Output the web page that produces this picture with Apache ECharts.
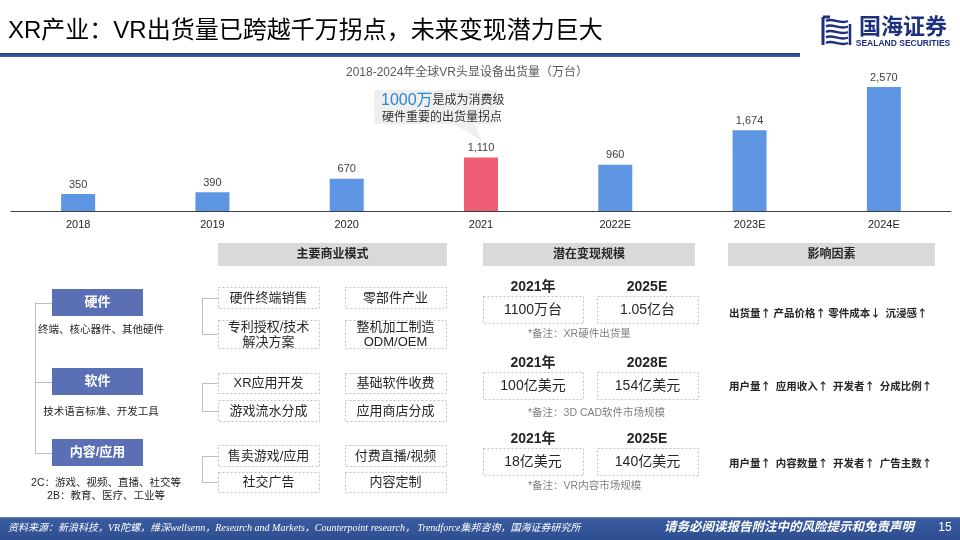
<!DOCTYPE html>
<html>
<head>
<meta charset="utf-8">
<script src="https://cdn.jsdelivr.net/npm/echarts@6/dist/echarts.min.js"></script>
<style>
html,body{margin:0;padding:0;background:#fff;}
#main{width:960px;height:540px;}
</style>
</head>
<body>
<div id="main"></div>
<script>
// ---------- data ----------
const categories = ['2018', '2019', '2020', '2021', '2022E', '2023E', '2024E'];
const shipments = [350, 390, 670, 1110, 960, 1674, 2570];
const highlightCategory = '2021';

const pageTitle = 'XR产业：VR出货量已跨越千万拐点，未来变现潜力巨大';
const chartTitle = '2018-2024年全球VR头显设备出货量（万台）';
const calloutBig = '1000万';
const calloutLine1 = '是成为消费级';
const calloutLine2 = '硬件重要的出货量拐点';

const segments = ['硬件', '软件', '内容/应用'];
const segmentNotes = [['终端、核心器件、其他硬件'], ['技术语言标准、开发工具'], ['2C：游戏、视频、直播、社交等', '2B：教育、医疗、工业等']];

const headers = ['主要商业模式', '潜在变现规模', '影响因素'];
const modelsLeft = ['硬件终端销售', '专利授权/技术\n解决方案', 'XR应用开发', '游戏流水分成', '售卖游戏/应用', '社交广告'];
const modelsRight = ['零部件产业', '整机加工制造\nODM/OEM', '基础软件收费', '应用商店分成', '付费直播/视频', '内容定制'];

const scaleYearsA = ['2021年', '2021年', '2021年'];
const scaleYearsB = ['2025E', '2028E', '2025E'];
const scaleValuesA = ['1100万台', '100亿美元', '18亿美元'];
const scaleValuesB = ['1.05亿台', '154亿美元', '140亿美元'];
const scaleNotes = ['*备注：XR硬件出货量', '*备注：3D CAD软件市场规模', '*备注：VR内容市场规模'];

const factors = ['出货量↑ 产品价格↑ 零件成本↓  沉浸感↑', '用户量↑  应用收入↑  开发者↑  分成比例↑', '用户量↑  内容数量↑  开发者↑  广告主数↑'];

const sourceText = '资料来源：新浪科技，VR陀螺，维深wellsenn，Research and Markets，Counterpoint research， Trendforce集邦咨询，国海证券研究所';
const disclaimer = '请务必阅读报告附注中的风险提示和免责声明';
const pageNo = '15';

// ---------- helpers ----------
const FONT = '"Liberation Sans", "Noto Sans CJK SC", sans-serif';
const CJK = '"Noto Sans CJK SC", sans-serif';
const G = [];
function rect(x, y, w, h, style) { G.push({ type: 'rect', shape: { x: x, y: y, width: w, height: h }, style: style, silent: true }); }
function line(x1, y1, x2, y2, color, w) { G.push({ type: 'line', shape: { x1: x1, y1: y1, x2: x2, y2: y2 }, style: { stroke: color || '#BFBFBF', lineWidth: w || 1 }, silent: true }); }
function txt(x, y, s, font, fill, align, extra) {
  const st = { x: x, y: y, text: s, font: font, fill: fill || '#262626', textAlign: align || 'center', textVerticalAlign: 'middle', lineHeight: 15 };
  if (extra) Object.assign(st, extra);
  G.push({ type: 'text', x: 0, y: 0, style: st, silent: true });
}
function dashBox(x, y, w, h) { rect(x + 0.5, y + 0.5, w, h, { fill: '#fff', stroke: '#BFBFBF', lineWidth: 1, lineDash: [2, 2] }); }

// title & underline
txt(8, 31, pageTitle, '24px ' + FONT, '#000', 'left');
rect(0, 53, 800, 4, { fill: { type: 'linear', x: 0, y: 0, x2: 0, y2: 1, colorStops: [{ offset: 0, color: '#1F3A7C' }, { offset: 1, color: '#3F63A8' }] } });

// logo
(function () {
  const c = '#1E2F7D';
  for (let i = 0; i < 5; i++) {
    const y = 21 + i * 5.5;
    G.push({ type: 'bezierCurve', shape: { x1: 826, y1: y, cpx1: 832, cpy1: y - 4, cpx2: 840, cpy2: y + 4, x2: 848, y2: y }, style: { stroke: c, lineWidth: 2.4, fill: null }, silent: true });
  }
  line(823, 17, 823, 45, c, 3);
  line(823, 17, 830, 17, c, 3);
  line(850, 24, 850, 45, c, 2.5);
})();
txt(903, 28, '国海证券', 'bold 22px ' + FONT, '#1E2F7D', 'center');
txt(903, 44, 'SEALAND SECURITIES', 'bold 8.5px ' + FONT, '#1E2F7D', 'center');

// chart title
txt(467, 73, chartTitle, '12px ' + FONT, '#595959', 'center');

// callout
rect(374, 90, 123, 34, { fill: '#EFEFEF' });
G.push({ type: 'polygon', shape: { points: [[452, 123], [474, 123], [482, 141]] }, style: { fill: '#EFEFEF' }, silent: true });
txt(381, 101, '{a|' + calloutBig + '}{b|' + calloutLine1 + '}', '12px ' + FONT, '#333', 'left', {
  rich: {
    a: { fontSize: 16, fontFamily: FONT, fill: '#2E86D1', color: '#2E86D1' },
    b: { fontSize: 12, fontFamily: FONT, fill: '#333', color: '#333' }
  }
});
txt(382, 118, calloutLine2, '12px ' + FONT, '#333', 'left');

// left column: segments
const segTop = [289, 368, 439];
const segBoxH = 27;
line(35.5, 302, 35.5, 453);
segments.forEach(function (s, i) {
  const cy = segTop[i] + segBoxH / 2;
  line(35, Math.round(cy) + 0.5, 52, Math.round(cy) + 0.5);
  rect(52, segTop[i], 91, segBoxH, { fill: '#5B6FB5' });
  txt(97.5, cy, s, 'bold 13px ' + FONT, '#fff', 'center');
});
const noteY = [[330], [412], [483, 496]];
segmentNotes.forEach(function (arr, i) {
  arr.forEach(function (n, j) { txt(i === 2 ? 106 : 101, noteY[i][j], n, '10.5px ' + FONT, '#262626', 'center'); });
});

// headers
const hdrX = [[218, 447], [483, 695], [728, 935]];
headers.forEach(function (h, i) {
  rect(hdrX[i][0], 243, hdrX[i][1] - hdrX[i][0], 23, { fill: '#D9D9D9' });
  txt((hdrX[i][0] + hdrX[i][1]) / 2, 254.5, h, 'bold 12px ' + FONT, '#262626', 'center');
});

// middle: business models
const rowY = [[287, 308], [320, 348], [373, 393], [400, 421], [445, 466], [472, 492]];
modelsLeft.forEach(function (m, i) {
  const y0 = rowY[i][0], y1 = rowY[i][1];
  dashBox(218, y0, 101, y1 - y0);
  dashBox(345, y0, 101, y1 - y0);
  txt(268.5, (y0 + y1) / 2 + 0.5, m, '13px ' + FONT, '#262626', 'center');
  txt(395.5, (y0 + y1) / 2 + 0.5, modelsRight[i], '13px ' + FONT, '#262626', 'center');
});
for (let k = 0; k < 3; k++) {
  const a = rowY[2 * k], b = rowY[2 * k + 1];
  const ya = Math.round((a[0] + a[1]) / 2) + 0.5, yb = Math.round((b[0] + b[1]) / 2) + 0.5;
  line(202.5, ya, 202.5, yb);
  line(202, ya, 218, ya);
  line(202, yb, 218, yb);
}

// column 3: scale
const blockY = [287, 363, 439];
scaleYearsA.forEach(function (ya, i) {
  const y = blockY[i];
  txt(533, y, ya, 'bold 14px ' + FONT, '#262626', 'center');
  txt(647, y, scaleYearsB[i], 'bold 14px ' + FONT, '#262626', 'center');
  dashBox(483, y + 9, 100, 27);
  dashBox(597, y + 9, 101, 27);
  txt(533, y + 23, scaleValuesA[i], '14px ' + FONT, '#262626', 'center');
  txt(647.5, y + 23, scaleValuesB[i], '14px ' + FONT, '#262626', 'center');
  txt(528, y + 47 + (i === 1 ? 3 : 0), scaleNotes[i], '10.5px ' + FONT, '#7F7F7F', 'left');
});

// column 4: factors
const factorY = [313, 386, 463];
factors.forEach(function (f, i) { txt(729, factorY[i], f, 'bold 10.5px ' + CJK, '#262626', 'left'); });

// footer
rect(0, 517, 960, 23, { fill: { type: 'linear', x: 0, y: 0, x2: 0, y2: 1, colorStops: [{ offset: 0, color: '#6F88BE' }, { offset: 0.08, color: '#3A5A9E' }, { offset: 1, color: '#2F4F93' }] } });
txt(8, 528, sourceText, 'italic 10px "Liberation Serif", "Noto Sans CJK SC", serif', '#fff', 'left');
txt(789, 528, disclaimer, 'italic bold 12.5px ' + FONT, '#fff', 'center');
txt(945, 528, pageNo, '12px ' + FONT, '#fff', 'center');

// ---------- chart ----------
const chart = echarts.init(document.getElementById('main'), null, { renderer: 'canvas' });
chart.setOption({
  animation: false,
  backgroundColor: '#fff',
  grid: { left: 11, right: 9, top: 87, bottom: 329, containLabel: false },
  xAxis: {
    type: 'category',
    data: categories,
    axisLine: { lineStyle: { color: '#404040', width: 1 } },
    axisTick: { show: false },
    axisLabel: { color: '#262626', fontSize: 11, fontFamily: 'Liberation Sans', margin: 8 }
  },
  yAxis: { type: 'value', min: 0, max: 2570, show: false, splitLine: { show: false } },
  series: [{
    type: 'bar',
    barWidth: 34,
    data: shipments.map(function (v, i) {
      return { value: v, itemStyle: { color: categories[i] === highlightCategory ? '#EE5F77' : '#5E96E3' } };
    }),
    label: {
      show: true, position: 'top', distance: 4,
      color: '#404040', fontSize: 11, fontFamily: 'Liberation Sans',
      formatter: function (p) { return p.value.toLocaleString('en-US'); }
    }
  }],
  graphic: { elements: G }
});
</script>
</body>
</html>
